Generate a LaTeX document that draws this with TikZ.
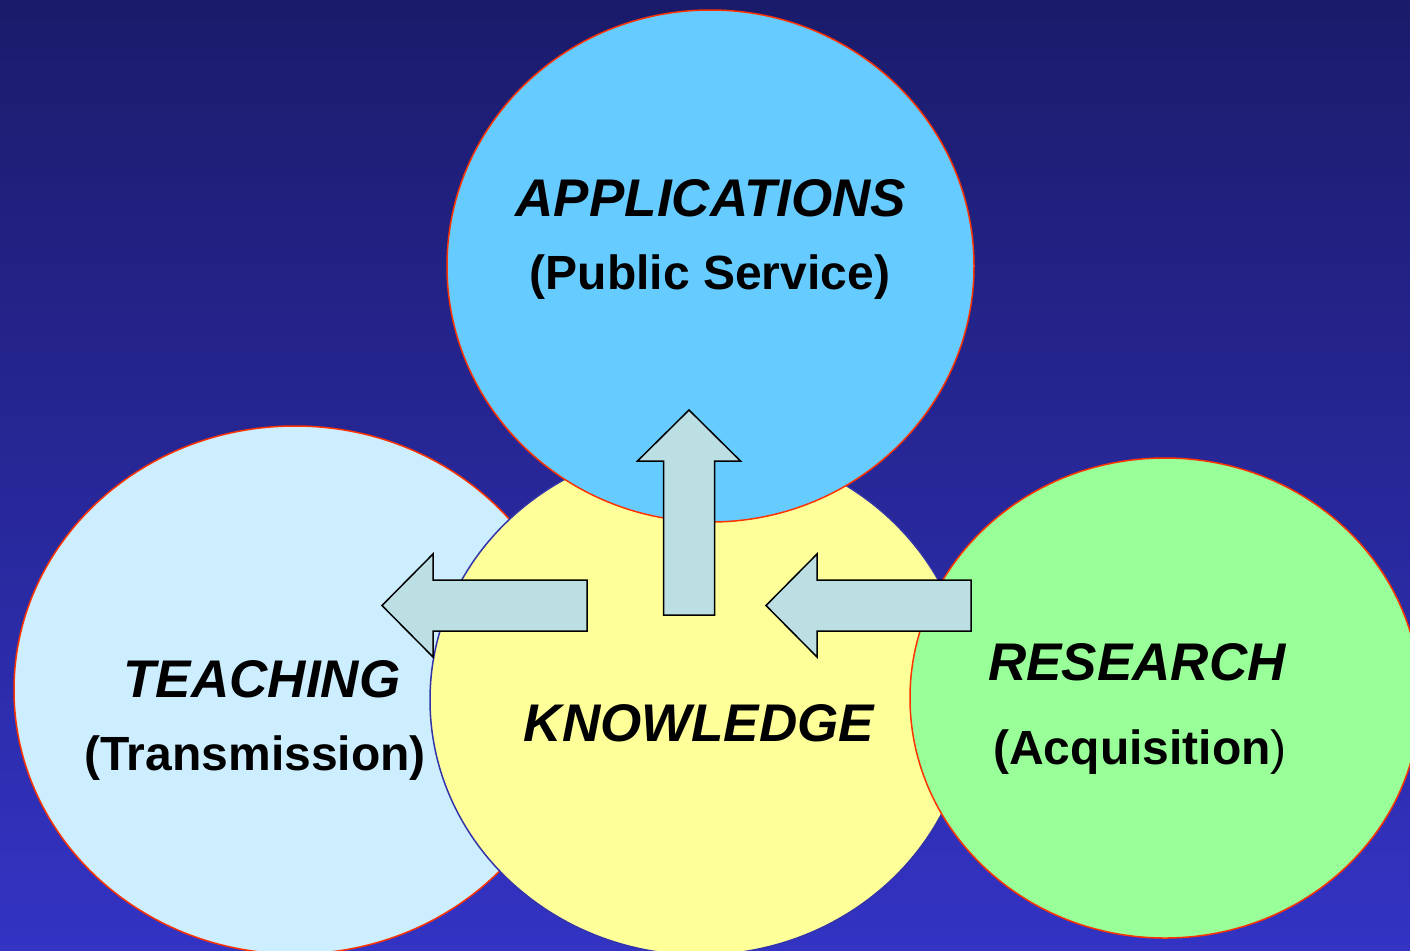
\documentclass[tikz,border=0pt]{standalone}
\usepackage{fontspec}
\setmainfont{Liberation Sans}
\usetikzlibrary{shapes.geometric}
\definecolor{SkyTop}{RGB}{27,27,107}
\definecolor{SkyBottom}{RGB}{51,51,196}
\definecolor{RimRed}{RGB}{255,51,0}
\definecolor{KnowRim}{RGB}{51,51,170}
\definecolor{AppFill}{RGB}{102,204,255}
\definecolor{TeachFill}{RGB}{204,238,255}
\definecolor{KnowFill}{RGB}{255,255,153}
\definecolor{ResFill}{RGB}{153,255,153}
\definecolor{ArrowFill}{RGB}{187,223,227}

% block arrow, tip at the origin, pointing left
\tikzset{blockarrow/.pic={
  \draw[blockarr] (0,0) -- (51,-51.5) -- (51,-25.5) -- (205,-25.5)
    -- (205,25.5) -- (51,25.5) -- (51,51.5) -- cycle;
}}

\begin{document}
\begin{tikzpicture}[x=0.5pt, y=-0.5pt,
  circ/.style={ellipse, draw=RimRed, line width=0.75pt, inner sep=0pt},
  title/.style={font=\fontsize{26.5}{30}\selectfont\bfseries\itshape,
                anchor=base, inner sep=0pt},
  sub/.style={font=\fontsize{24}{28}\selectfont\bfseries,
              anchor=base, inner sep=0pt},
  blockarr/.style={draw=black, line width=0.75pt, fill=ArrowFill},
]
\shade[top color=SkyTop, bottom color=SkyBottom] (0,0) rectangle (1410,950);
\useasboundingbox (0,0) rectangle (1410,950);

% the four circles, back to front
\node[circ, fill=TeachFill, minimum width=281pt, minimum height=264pt] (teach) at (295,690) {};
\node[circ, draw=KnowRim, fill=KnowFill, minimum width=270pt, minimum height=255pt] (know) at (700,700) {};
\node[circ, fill=ResFill, minimum width=255pt, minimum height=240pt] (res) at (1165,698) {};
\node[circ, fill=AppFill, minimum width=263.5pt, minimum height=256pt] (app) at (710.5,266) {};

% arrows out of and into knowledge
\pic at (382,605.5) {blockarrow};
\pic at (766,605.5) {blockarrow};
\pic[rotate=-90] at (689,410) {blockarrow};

% labels
\node[title] (apptitle) at (711,216) {APPLICATIONS};
\node[sub] (appsub) at (710,289) {(Public Service)};
\node[title] (teachtitle) at (262,697) {TEACHING};
\node[sub] (teachsub) at (255,770) {(Transmission)};
\node[title] (knowtitle) at (699,741) {KNOWLEDGE};
\node[title] (restitle) at (1137,680) {RESEARCH};
\node[sub] (ressub) at (1140,764) {(Acquisition\textmd{)}};
\end{tikzpicture}
\end{document}
